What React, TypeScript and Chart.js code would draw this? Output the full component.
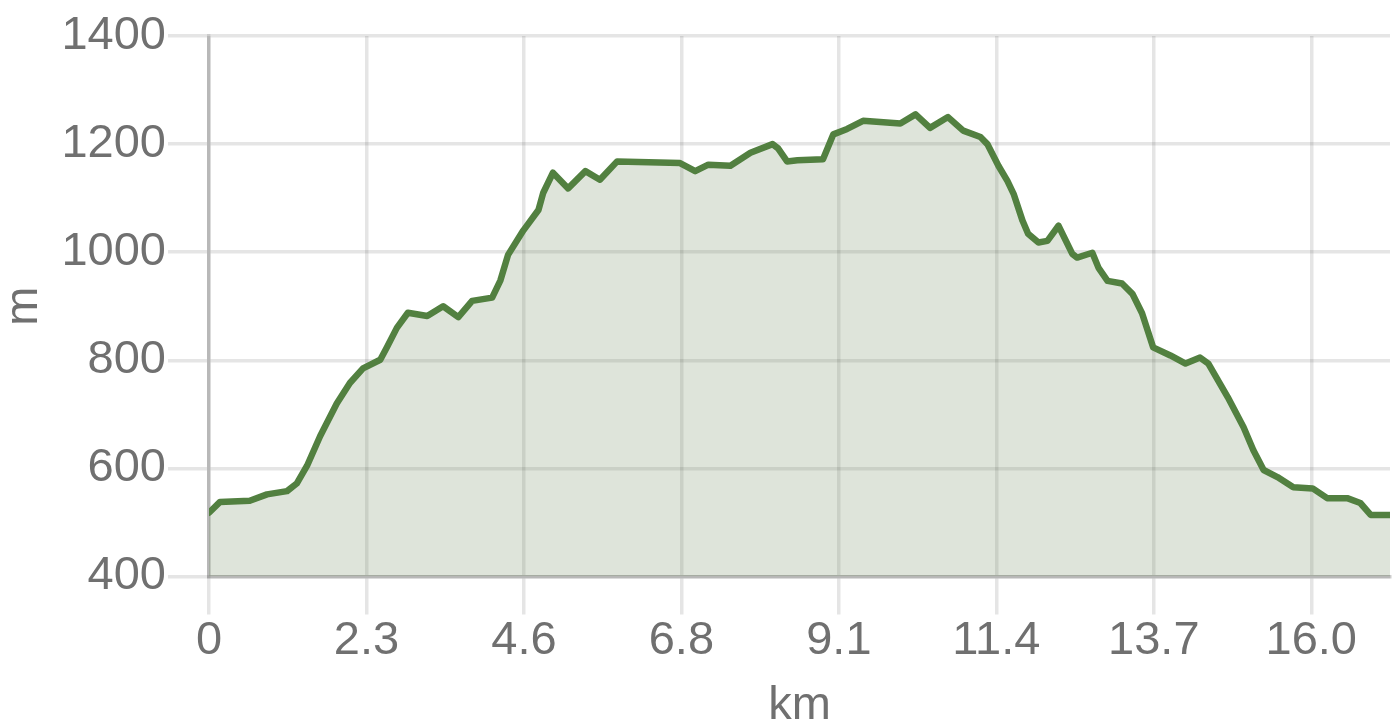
import React, { useEffect, useRef } from "react";
import { Chart, registerables } from "chart.js";

Chart.register(...registerables);

// Distance along the route (km)
const DIST_KM = [
  0, 0.16, 0.59, 0.84, 1.13, 1.27, 1.42, 1.61, 1.85, 2.04, 2.23, 2.48, 2.58, 2.72, 2.88,
  3.16, 3.39, 3.61, 3.81, 4.1, 4.22, 4.33, 4.55, 4.77, 4.84, 4.98, 5.2, 5.45, 5.66, 5.91,
  6.82, 7.04, 7.23, 7.55, 7.84, 8.16, 8.24, 8.37, 8.52, 8.89, 9.04, 9.24, 9.47, 10.01,
  10.23, 10.44, 10.7, 10.92, 11.17, 11.27, 11.43, 11.56, 11.65, 11.78, 11.86, 12.01,
  12.14, 12.3, 12.5, 12.57, 12.79, 12.88, 13.01, 13.22, 13.37, 13.51, 13.67, 13.92,
  14.14, 14.35, 14.47, 14.75, 14.98, 15.12, 15.27, 15.47, 15.7, 15.98, 16.19, 16.48,
  16.67, 16.82, 17.1,
];

// Elevation (m)
const ELEV_M = [
  518, 538, 540, 552, 558, 572, 605, 660, 720, 758, 785, 801, 825, 860, 888,
  882, 900, 880, 910, 916, 948, 995, 1040, 1078, 1110, 1147, 1118, 1150, 1134, 1168,
  1165, 1150, 1162, 1160, 1184, 1200, 1192, 1168, 1170, 1172, 1218, 1228, 1243, 1238,
  1255, 1230, 1250, 1225, 1213, 1200, 1160, 1132, 1108, 1058, 1034, 1018,
  1021, 1049, 997, 990, 999, 971, 947, 942, 923, 887, 824, 809,
  794, 805, 794, 732, 676, 634, 597, 584, 565, 563, 545, 545,
  536, 514, 514,
];

const X_TICKS = [0, 2.28, 4.56, 6.84, 9.12, 11.4, 13.68, 15.96];
const X_TICK_LABELS = ["0", "2.3", "4.6", "6.8", "9.1", "11.4", "13.7", "16.0"];
const X_MAX = 17.1;
const Y_MIN = 400;
const Y_MAX = 1400;
const Y_STEP = 200;

const FONT = "'Liberation Sans', Arial, Helvetica, sans-serif";

export default function App() {
  const ref = useRef<HTMLCanvasElement | null>(null);

  useEffect(() => {
    if (!ref.current) return;
    const data = DIST_KM.map((d, i) => ({ x: d, y: ELEV_M[i] }));
    const chart = new Chart(ref.current, {
      type: "line",
      data: {
        datasets: [
          {
            data,
            borderColor: "#528040",
            backgroundColor: "rgba(90,120,70,0.2)",
            borderWidth: 6.5,
            pointRadius: 0,
            tension: 0,
            fill: "start",
            borderJoinStyle: "round",
            borderCapStyle: "round",
          },
        ],
      },
      options: {
        animation: false,
        responsive: false,
        layout: { padding: { left: 0, right: 8, top: 36, bottom: 0 } },
        plugins: { legend: { display: false }, tooltip: { enabled: false } },
        scales: {
          x: {
            type: "linear",
            min: 0,
            max: X_MAX,
            afterBuildTicks: (scale: any) => {
              scale.ticks = X_TICKS.map((v) => ({ value: v }));
            },
            afterFit: (scale: any) => {
              scale.height = 148.5;
            },
            grid: {
              color: "rgba(0,0,0,0.1)",
              lineWidth: 3.5,
              tickLength: 38,
            },
            border: { color: "rgba(0,0,0,0.2)", width: 3.5 },
            ticks: {
              autoSkip: false,
              maxRotation: 0,
              padding: 3,
              color: "#707070",
              font: { family: FONT, size: 47, lineHeight: 1 },
              callback: (_v: any, i: number) => X_TICK_LABELS[i],
            },
            title: {
              display: true,
              text: "km",
              color: "#707070",
              font: { family: FONT, size: 47, lineHeight: 0.8 },
              padding: { top: 0, bottom: 0 },
            },
          },
          y: {
            type: "linear",
            min: Y_MIN,
            max: Y_MAX,
            afterFit: (scale: any) => {
              scale.width = 209;
            },
            grid: {
              color: "rgba(0,0,0,0.1)",
              lineWidth: 3.5,
              tickLength: 41,
            },
            border: { color: "rgba(0,0,0,0.2)", width: 3.5 },
            ticks: {
              stepSize: Y_STEP,
              padding: 2,
              color: "#707070",
              font: { family: FONT, size: 47, lineHeight: 1 },
              callback: (v: any) => String(v),
            },
            title: {
              display: true,
              text: "m",
              color: "#707070",
              font: { family: FONT, size: 47, lineHeight: 1 },
              padding: { top: 0.5, bottom: 0 },
            },
          },
        },
      },
    });
    return () => chart.destroy();
  }, []);

  return (
    <div style={{ position: "absolute", left: 0, top: 0, width: 1398, height: 725, background: "#fff" }}>
      <canvas ref={ref} width={1398} height={725} style={{ display: "block" }} />
    </div>
  );
}
